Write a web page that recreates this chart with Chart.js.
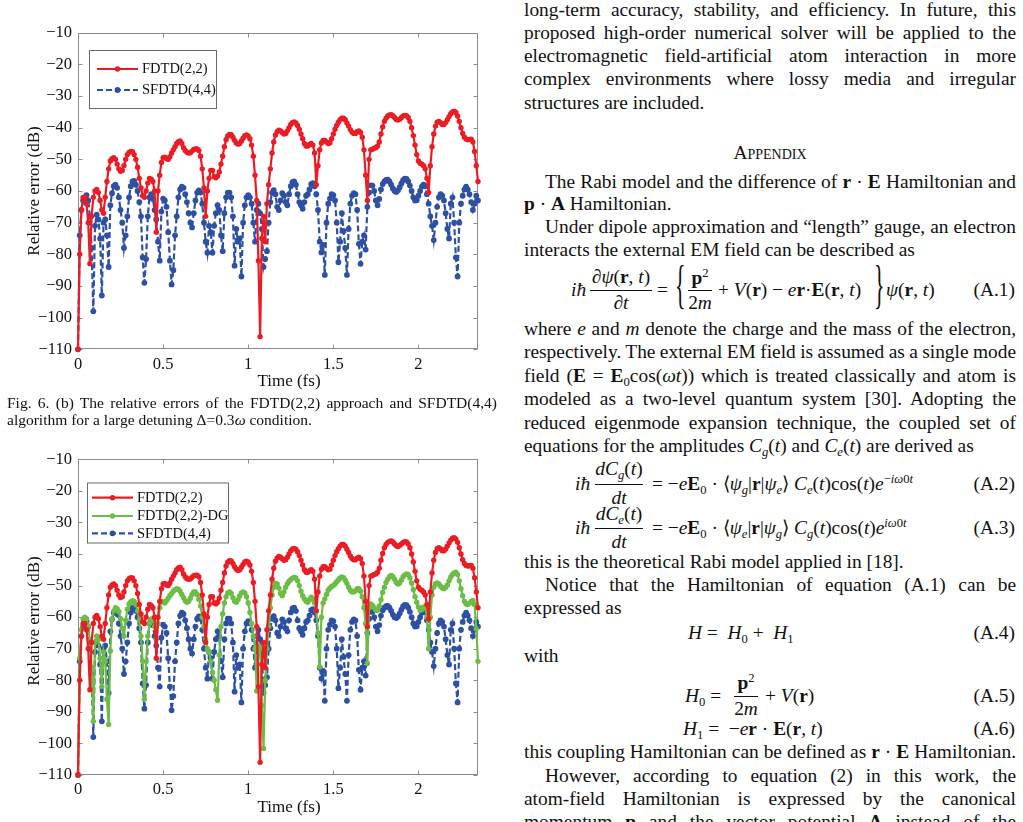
<!DOCTYPE html>
<html><head><meta charset="utf-8">
<script src="https://cdn.jsdelivr.net/npm/chart.js@4.4.1/dist/chart.umd.min.js"></script>
<style>
html,body{margin:0;padding:0;background:#fff;}
body{width:1023px;height:822px;position:relative;overflow:hidden;font-family:"Liberation Serif","Times New Roman",serif;color:#111;}
canvas{position:absolute;left:0;}
.t{position:absolute;white-space:nowrap;font-size:19.4px;line-height:23px;}
.cap{position:absolute;white-space:nowrap;font-size:15.5px;line-height:17px;}
.ctr{transform:translateX(-50%);}
.sb{font-size:0.65em;vertical-align:-0.3em;line-height:0;}
.sp{font-size:0.65em;vertical-align:0.55em;line-height:0;}
.bar{position:absolute;height:1px;background:#111;}
.br{position:absolute;font-size:52px;line-height:52px;transform:scaleX(0.42);transform-origin:left;}
.ax{position:absolute;font-size:17px;line-height:17px;white-space:nowrap;color:#111;}
.eqn{right:8px;}
</style></head>
<body>
<canvas id="c1" width="500" height="400" style="top:0;width:500px;height:400px"></canvas>
<canvas id="c2" width="500" height="392" style="top:430px;width:500px;height:392px"></canvas>

<div class="ax" style="left:289px;top:380px;transform:translate(-50%,-50%)">Time (fs)</div>
<div class="ax" style="left:289px;top:806px;transform:translate(-50%,-50%)">Time (fs)</div>
<div class="ax" style="left:33px;top:191px;transform:translate(-50%,-50%) rotate(-90deg)">Relative error (dB)</div>
<div class="ax" style="left:33px;top:621px;transform:translate(-50%,-50%) rotate(-90deg)">Relative error (dB)</div>

<div class="cap j" data-w="490" style="left:7px;top:393.7px">Fig. 6. (b) The relative errors of the FDTD(2,2) approach and SFDTD(4,4)</div>
<div class="cap" style="left:7px;top:410.7px">algorithm for a large detuning Δ=0.3<i>ω</i> condition.</div>

<div class="t j" data-w="492" style="left:524px;top:-1.9px">long-term accuracy, stability, and efficiency. In future, this</div>
<div class="t j" data-w="492" style="left:524px;top:21.2px">proposed high-order numerical solver will be applied to the</div>
<div class="t j" data-w="492" style="left:524px;top:44.3px">electromagnetic field-artificial atom interaction in more</div>
<div class="t j" data-w="492" style="left:524px;top:67.4px">complex environments where lossy media and irregular</div>
<div class="t" style="left:524px;top:90.5px">structures are included.</div>
<div class="t ctr" style="left:770px;top:140.5px;font-variant:small-caps">Appendix</div>
<div class="t j" data-w="471" style="left:545px;top:169.8px">The Rabi model and the difference of <b>r</b> · <b>E</b> Hamiltonian and</div>
<div class="t" style="left:524px;top:191.8px"><b>p</b> · <b>A</b> Hamiltonian.</div>
<div class="t j" data-w="471" style="left:545px;top:215.3px">Under dipole approximation and “length” gauge, an electron</div>
<div class="t" style="left:524px;top:238.3px">interacts the external EM field can be described as</div>

<!-- (A.1) -->
<div class="t" style="left:571px;top:277.8px"><i>iħ</i></div>
<div class="t ctr" style="left:621px;top:264.8px">∂<i>ψ</i>(<b>r</b>, <i>t</i>)</div>
<div class="bar" style="left:590px;width:62px;top:290px"></div>
<div class="t ctr" style="left:621px;top:290.8px">∂<i>t</i></div>
<div class="t" style="left:657px;top:277.8px">=</div>
<div class="br" style="left:675px;top:258.5px">{</div>
<div class="t ctr" style="left:700px;top:265.8px"><b>p</b><span class="sp">2</span></div>
<div class="bar" style="left:688px;width:24px;top:290px"></div>
<div class="t ctr" style="left:700px;top:290.8px">2<i>m</i></div>
<div class="t" style="left:718px;top:277.8px">+ <i>V</i>(<b>r</b>) − <i>e</i><b>r</b>·<b>E</b>(<b>r</b>, <i>t</i>)</div>
<div class="br" style="left:874px;top:258.5px">}</div>
<div class="t" style="left:886px;top:277.8px"><i>ψ</i>(<b>r</b>, <i>t</i>)</div>
<div class="t eqn" style="top:277.8px">(A.1)</div>

<div class="t j" data-w="492" style="left:524px;top:317.1px">where <i>e</i> and <i>m</i> denote the charge and the mass of the electron,</div>
<div class="t j" data-w="492" style="left:524px;top:340.3px">respectively. The external EM field is assumed as a single mode</div>
<div class="t j" data-w="492" style="left:524px;top:363.8px">field (<b>E</b> = <b>E</b><span class="sb">0</span>cos(<i>ωt</i>)) which is treated classically and atom is</div>
<div class="t j" data-w="492" style="left:524px;top:387.1px">modeled as a two-level quantum system [30]. Adopting the</div>
<div class="t j" data-w="492" style="left:524px;top:410.5px">reduced eigenmode expansion technique, the coupled set of</div>
<div class="t" style="left:524px;top:433.8px">equations for the amplitudes <i>C</i><span class="sb"><i>g</i></span>(<i>t</i>) and <i>C</i><span class="sb"><i>e</i></span>(<i>t</i>) are derived as</div>

<!-- (A.2) -->
<div class="t" style="left:575px;top:471.8px"><i>iħ</i></div>
<div class="t ctr" style="left:619px;top:457.3px"><i>dC</i><span class="sb"><i>g</i></span>(<i>t</i>)</div>
<div class="bar" style="left:595px;width:48px;top:484px"></div>
<div class="t ctr" style="left:619px;top:485.8px"><i>dt</i></div>
<div class="t" style="left:652px;top:471.8px">= −<i>e</i><b>E</b><span class="sb">0</span> · ⟨<i>ψ</i><span class="sb"><i>g</i></span>|<b>r</b>|<i>ψ</i><span class="sb"><i>e</i></span>⟩ <i>C</i><span class="sb"><i>e</i></span>(<i>t</i>)cos(<i>t</i>)<i>e</i><span class="sp">−<i>iω</i>0<i>t</i></span></div>
<div class="t eqn" style="top:471.8px">(A.2)</div>
<!-- (A.3) -->
<div class="t" style="left:575px;top:515.8px"><i>iħ</i></div>
<div class="t ctr" style="left:619px;top:501.8px"><i>dC</i><span class="sb"><i>e</i></span>(<i>t</i>)</div>
<div class="bar" style="left:595px;width:48px;top:528px"></div>
<div class="t ctr" style="left:619px;top:530.3px"><i>dt</i></div>
<div class="t" style="left:652px;top:515.8px">= −<i>e</i><b>E</b><span class="sb">0</span> · ⟨<i>ψ</i><span class="sb"><i>e</i></span>|<b>r</b>|<i>ψ</i><span class="sb"><i>g</i></span>⟩ <i>C</i><span class="sb"><i>g</i></span>(<i>t</i>)cos(<i>t</i>)<i>e</i><span class="sp"><i>iω</i>0<i>t</i></span></div>
<div class="t eqn" style="top:515.8px">(A.3)</div>

<div class="t" style="left:524px;top:549.5px">this is the theoretical Rabi model applied in [18].</div>
<div class="t j" data-w="471" style="left:545px;top:572.8px">Notice that the Hamiltonian of equation (A.1) can be</div>
<div class="t" style="left:524px;top:596.1px">expressed as</div>
<div class="t" style="left:688px;top:620.5px"><i>H</i> =&nbsp; <i>H</i><span class="sb">0</span> +&nbsp; <i>H</i><span class="sb">1</span></div>
<div class="t eqn" style="top:620.5px">(A.4)</div>
<div class="t" style="left:524px;top:643.8px">with</div>
<div class="t" style="left:685px;top:683.8px"><i>H</i><span class="sb">0</span> =</div>
<div class="t ctr" style="left:746px;top:670.8px"><b>p</b><span class="sp">2</span></div>
<div class="bar" style="left:734px;width:24px;top:695.5px"></div>
<div class="t ctr" style="left:746px;top:697.3px">2<i>m</i></div>
<div class="t" style="left:765px;top:683.8px">+ <i>V</i>(<b>r</b>)</div>
<div class="t eqn" style="top:683.8px">(A.5)</div>
<div class="t" style="left:683px;top:717.1px"><i>H</i><span class="sb">1</span> =&nbsp; −<i>e</i><b>r</b> · <b>E</b>(<b>r</b>, <i>t</i>)</div>
<div class="t eqn" style="top:717.1px">(A.6)</div>
<div class="t j" data-w="492" style="left:524px;top:739.5px">this coupling Hamiltonian can be defined as <b>r</b> · <b>E</b> Hamiltonian.</div>
<div class="t j" data-w="471" style="left:545px;top:763.8px">However, according to equation (2) in this work, the</div>
<div class="t j" data-w="492" style="left:524px;top:787.1px">atom-field Hamiltonian is expressed by the canonical</div>
<div class="t j" data-w="492" style="left:524px;top:810.3px">momentum <b>p</b> and the vector potential <b>A</b> instead of the</div>

<script>
const T_STEP = 0.01;
const seriesNames = ['FDTD(2,2)', 'FDTD(2,2)-DG', 'SFDTD(4,4)'];
const xTicks = [0, 0.5, 1, 1.5, 2];
const xTickLabels = ['0', '0.5', '1', '1.5', '2'];
const yTicks = [-110, -100, -90, -80, -70, -60, -50, -40, -30, -20, -10];
const yTickLabels = ['\u2212110', '\u2212100', '\u221290', '\u221280', '\u221270', '\u221260', '\u221250', '\u221240', '\u221230', '\u221220', '\u221210'];

const fdtd = [
-110,-80,-66,-62,-62,-64,-70,-83,-68,-62,
-60,-59.5,-60.5,-63,-66,-67,-62,-57,-53,-50.5,
-49.8,-49.5,-50,-51.5,-53,-53.8,-53.5,-52,-50,-48.5,
-47.8,-47.5,-47.6,-48.5,-50,-52.5,-56,-59,-61.5,-62,
-60,-57.5,-56,-56.3,-57,-60,-73,-60,-55,-51,
-49.5,-49.3,-49.8,-50,-49.2,-48,-47,-46,-45,-44.4,
-44.2,-45,-46.3,-47.2,-47.8,-48,-47.9,-47.4,-46.9,-46.7,
-46.7,-47.2,-49,-53,-59,-68,-60,-56,-53.5,-53.5,
-55.5,-55.8,-55.3,-54,-51.5,-49,-46,-43.8,-42.6,-42.1,
-42.2,-43,-44,-44.8,-45.2,-45,-44.2,-43.3,-42.5,-42.3,
-42.6,-43.5,-45.5,-49,-55,-63,-82,-106,-75,-68,
-76,-64,-58,-53,-48,-44.5,-42.3,-41.3,-40.8,-41,
-41.5,-42,-41.8,-41,-40,-39,-38.4,-38.2,-38.5,-39.3,
-40.5,-42,-43.5,-45,-45.8,-45.8,-45.3,-45,-45.5,-48,
-58,-52,-47,-44.8,-44,-44,-44.5,-45,-44.8,-43.5,
-42,-40.5,-39.3,-38.3,-37.5,-37,-37,-37.5,-38.5,-39.5,
-40.6,-41.4,-41.8,-41.8,-41.3,-41,-41.5,-43,-47,-55,
-63,-50,-47,-46.8,-46.5,-46.3,-45.8,-44.5,-42,-39.8,
-38,-37,-36.3,-36,-35.9,-36.2,-36.8,-37.4,-37.6,-37.3,
-36.8,-36.3,-36.1,-36.2,-36.8,-38,-40,-42.5,-45.5,-48.5,
-50.5,-51.2,-51.5,-52,-53,-56,-60.5,-52,-46,-42,
-39.5,-38.3,-38,-38.4,-39,-39,-38.4,-37.5,-36.5,-35.6,
-35,-34.8,-35.2,-36.3,-38,-40,-41.8,-43,-43.6,-43.8,
-43.7,-43.6,-44.5,-47.5,-52,-57
];

const fdtdDG = [
-110,-73,-64,-60.6,-60,-60.5,-62.7,-68,-76,-93,
-68,-66,-67,-73,-82,-71,-74,-86,-94,-70.7,
-60.6,-58,-57,-57.3,-58.3,-60.5,-63.5,-66,-61,-57.5,
-55.8,-55.2,-54.8,-55,-56,-58,-61,-66,-74,-86,
-74,-66,-62,-60.6,-61,-63,-67,-62,-57,-55,
-55.2,-55.5,-54.8,-54,-53.2,-52.5,-51.8,-51.3,-51,-51.2,
-51.8,-52.8,-53.8,-54.8,-55.3,-55,-54,-52.8,-52,-52,
-52.8,-54.3,-56.5,-60,-63,-67,-70,-71,-74,-77.5,
-80,-83,-86.3,-72,-63,-59,-55.5,-53.5,-52.3,-52,
-52.5,-53.8,-55,-55.3,-54.5,-53.3,-52.3,-52,-52.3,-53.5,
-55.5,-58.5,-62,-66,-70,-83.4,-69,-70,-88,-101.6,
-80,-70,-63,-57,-53,-50.5,-49.3,-49.5,-50.8,-52.5,
-53.2,-52,-50.5,-49.4,-48.6,-48.1,-47.7,-47.4,-47.6,-48.5,
-50,-51.8,-53.2,-54.2,-55,-55.3,-54.5,-53.7,-54.2,-55.5,
-58,-65,-75.8,-60,-55.5,-54.2,-52.8,-51.5,-50.8,-50.3,
-50,-49.5,-48.8,-48.2,-47.6,-47.3,-47.5,-48.3,-49.3,-50.5,
-51.5,-52,-52,-51.6,-51,-51,-51.8,-53.5,-57,-62,
-74.7,-57,-55.8,-56.3,-57,-57.8,-57.8,-56.5,-54.5,-52.2,
-50.5,-49,-48,-47.2,-46.8,-47.2,-48,-49,-49.5,-49.2,
-48.2,-47.2,-46.6,-46.3,-46.5,-47.5,-49.2,-51.3,-53.5,-55.3,
-56.8,-57.8,-57.6,-56.8,-57,-60,-70,-60,-53,-50.5,
-49.5,-49.2,-49.5,-50.2,-50.8,-51,-50.5,-49.8,-48.5,-47.3,
-46.5,-46,-45.8,-46.5,-48.5,-51,-53.2,-55,-55.8,-56,
-55.6,-55,-54.7,-56,-63.7,-74
];

const sfdtd = [
-110,-74,-66,-63,-62,-61.3,-63,-68,-78,-98,
-71,-67.5,-69,-75,-93,-70,-69,-74,-84,-64.5,
-60.7,-58.5,-58,-59,-62,-66,-70,-78,-74,-68,
-62,-58.5,-57,-56.8,-58,-60,-63.5,-68,-81,-89,
-81.5,-68,-62,-61,-62.5,-66,-69,-76,-82,-66.5,
-62.4,-63,-65,-73,-82,-89.5,-85,-74,-68,-62,
-59.5,-58.6,-59,-61,-63.5,-67,-70,-71.5,-67,-63,
-60.5,-59.8,-60.5,-64,-70,-76,-79.5,-71,-73,-79.5,
-71,-67,-64.5,-66,-74,-79,-67,-62,-60.5,-60.5,
-62,-68,-83.6,-72,-76,-75,-87,-70,-64.5,-62,
-61.3,-62,-64,-70,-76,-66,-64,-67,-72,-84,
-81.5,-79,-70,-63.5,-60.5,-59.7,-61,-65,-66,-63,
-60.7,-61.5,-63.5,-64.5,-61,-58.5,-57.2,-57,-58,-61,
-63.5,-64.5,-65.6,-63.5,-61.5,-61,-59.5,-57.8,-57.5,-58.5,
-61,-66,-76,-79.4,-77,-86.5,-70,-64,-62.4,-61,
-61.3,-63,-70,-82.5,-76,-67,-72.6,-78,-86.5,-72,
-64,-61.5,-60.7,-61,-66,-76.7,-83,-76,-74,-78.5,
-65,-60.5,-58.2,-58.3,-60,-63,-64.5,-62.5,-59.5,-57.8,
-57,-56.5,-56.4,-57,-58,-59.2,-60,-60.3,-59.8,-58.8,
-57.6,-56.6,-56.1,-56.2,-57,-58.3,-60,-62,-63,-62.9,
-61.5,-60,-58.6,-58,-58.5,-61,-64,-68,-71,-75.5,
-70,-65,-62,-61,-61.5,-63,-67,-72,-75,-64,
-62,-70,-81,-87,-70,-64,-61.5,-59.5,-58.6,-59.5,
-61,-63.5,-66,-64,-61.5,-63
];

// ---- styling ----
const RED = '#ec1c24', GREEN = '#6cbd45', BLUE = '#2e50a4';
Chart.defaults.font.family = '"Liberation Serif", "Times New Roman", serif';
Chart.defaults.color = '#111';

function toXY(arr) { return arr.map((v, i) => ({ x: +(i * T_STEP).toFixed(2), y: v })); }

function ds(label, values, color, dashed, r) {
  return {
    label: label, data: toXY(values),
    borderColor: color, backgroundColor: color,
    pointBackgroundColor: color, pointBorderColor: color, pointBorderWidth: 0,
    pointRadius: r, borderWidth: 2.2, borderDash: dashed ? [6, 3] : [],
    tension: 0, clip: false
  };
}

const framePlugin = {
  id: 'frame',
  beforeDatasetsDraw(chart) {
    const { ctx, chartArea: a, scales: { x, y } } = chart;
    ctx.save();
    ctx.strokeStyle = '#8c8c8c';
    ctx.lineWidth = 1;
    const L = Math.round(a.left) + 0.5, R = Math.round(a.right) - 0.5, T = Math.round(a.top) + 0.5, B = Math.round(a.bottom) - 0.5;
    ctx.strokeRect(L, T, R - L, B - T);
    ctx.beginPath();
    xTicks.forEach(v => {
      const px = Math.round(x.getPixelForValue(v)) + 0.5;
      ctx.moveTo(px, B); ctx.lineTo(px, B - 4);
      ctx.moveTo(px, T); ctx.lineTo(px, T + 4);
    });
    yTicks.forEach(v => {
      const py = Math.round(y.getPixelForValue(v)) + 0.5;
      ctx.moveTo(L, py); ctx.lineTo(L + 4, py);
      ctx.moveTo(R, py); ctx.lineTo(R - 4, py);
    });
    ctx.stroke();
    ctx.restore();
  }
};

function makeLegend(cfg) {
  return {
    id: 'boxLegend',
    afterDatasetsDraw(chart) {
      const ctx = chart.ctx, b = cfg.box;
      ctx.save();
      ctx.fillStyle = '#fff';
      ctx.fillRect(b.x, b.y, b.w, b.h);
      ctx.strokeStyle = '#6a6a6a'; ctx.lineWidth = 1;
      ctx.strokeRect(b.x + 0.5, b.y + 0.5, b.w, b.h);
      cfg.items.forEach((idx, k) => {
        const d = chart.data.datasets[idx];
        const yy = cfg.rows[k];
        ctx.strokeStyle = d.borderColor; ctx.lineWidth = d.borderWidth;
        ctx.setLineDash(d.borderDash || []);
        ctx.beginPath(); ctx.moveTo(cfg.x0, yy); ctx.lineTo(cfg.x1, yy); ctx.stroke();
        ctx.setLineDash([]);
        ctx.fillStyle = d.pointBackgroundColor;
        ctx.beginPath(); ctx.arc((cfg.x0 + cfg.x1) / 2, yy, d.pointRadius, 0, Math.PI * 2); ctx.fill();
        ctx.fillStyle = '#111';
        ctx.font = '14.5px "Liberation Serif", serif';
        ctx.textBaseline = 'middle'; ctx.textAlign = 'left';
        ctx.fillText(d.label, cfg.textX, yy + 0.5);
      });
      ctx.restore();
    }
  };
}

function makeChart(id, datasets, legendCfg, g) {
  return new Chart(document.getElementById(id), {
    type: 'line',
    data: { datasets: datasets },
    options: {
      responsive: false, animation: false, devicePixelRatio: 1,
      layout: { padding: { left: 0, top: g.padTop, right: g.padRight, bottom: 0 } },
      plugins: { legend: { display: false }, tooltip: { enabled: false } },
      scales: {
        x: {
          type: 'linear', min: 0, max: 2.35,
          grid: { display: false, drawTicks: false }, border: { display: false },
          afterBuildTicks: s => { s.ticks = xTicks.map(v => ({ value: v })); },
          afterFit: s => { s.height = g.xHeight; },
          ticks: { autoSkip: false, maxRotation: 0, padding: g.xPad, color: '#111',
                   font: { size: 16.5 }, callback: v => xTickLabels[xTicks.indexOf(v)] }
        },
        y: {
          type: 'linear', min: -110, max: -10,
          grid: { display: false, drawTicks: false }, border: { display: false },
          afterBuildTicks: s => { s.ticks = yTicks.map(v => ({ value: v })); },
          afterFit: s => { s.width = g.yWidth; },
          ticks: { autoSkip: false, padding: 6, color: '#111',
                   font: { size: 16.5 }, callback: v => yTickLabels[yTicks.indexOf(v)] }
        }
      }
    },
    plugins: [framePlugin, makeLegend(legendCfg)]
  });
}

makeChart('c1',
  [ds(seriesNames[0], fdtd, RED, false, 2.7), ds(seriesNames[2], sfdtd, BLUE, true, 2.9)],
  { box: { x: 89, y: 50, w: 127, h: 58 }, items: [0, 1], rows: [69, 90], x0: 97, x1: 138, textX: 142 },
  { padTop: 32.7, padRight: 22, yWidth: 78, xHeight: 50.7, xPad: 5 });

makeChart('c2',
  [ds(seriesNames[0], fdtd, RED, false, 2.7), ds(seriesNames[1], fdtdDG, GREEN, false, 2.7), ds(seriesNames[2], sfdtd, BLUE, true, 2.9)],
  { box: { x: 87, y: 52.5, w: 141, h: 60 }, items: [0, 1, 2], rows: [67.7, 86, 103.3], x0: 92, x1: 133, textX: 137 },
  { padTop: 29.3, padRight: 22, yWidth: 78, xHeight: 47, xPad: 5 });

// ---- justify single text lines to the column width ----
function justify() {
  document.querySelectorAll('.j').forEach(el => {
    el.style.wordSpacing = '0px';
    const target = parseFloat(el.dataset.w);
    const w = el.getBoundingClientRect().width;
    const n = (el.textContent.match(/ /g) || []).length;
    if (n > 0) el.style.wordSpacing = ((target - w) / n) + 'px';
  });
}
justify();
if (document.fonts && document.fonts.ready) document.fonts.ready.then(justify);
</script>
</body></html>
